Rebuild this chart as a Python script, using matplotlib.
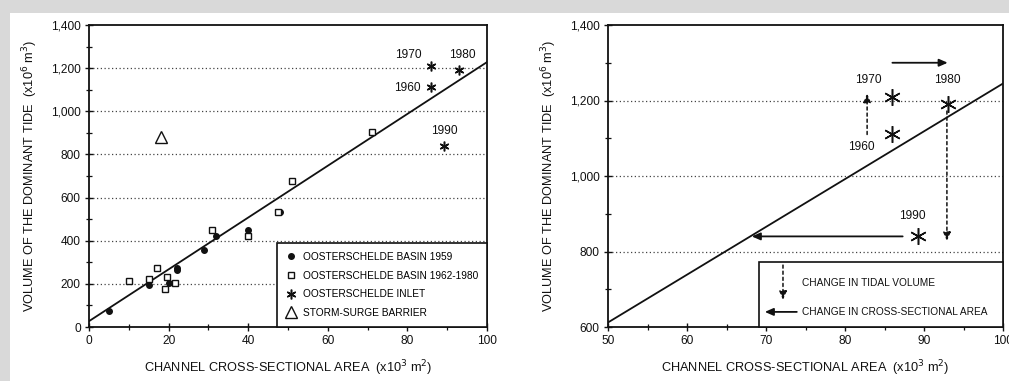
import matplotlib
matplotlib.use("Agg")
import matplotlib.pyplot as plt
from matplotlib.patches import Rectangle
from matplotlib.ticker import MultipleLocator, FuncFormatter

plt.rcParams['font.family'] = ['Liberation Sans', 'DejaVu Sans']

# ---- Data: Oosterschelde tidal volume vs. channel cross-section ----
basin_1959_x = [5, 15, 20, 22, 22, 29, 32, 40, 48]
basin_1959_y = [75, 195, 205, 275, 262, 355, 420, 450, 535]

basin_1962_x = [10, 15, 17, 19, 19.5, 21.5, 31, 40, 47.5, 51, 71]
basin_1962_y = [215, 222, 272, 175, 232, 203, 450, 420, 535, 675, 905]

inlet_years = ["1960", "1970", "1980", "1990"]
inlet_x = [86, 86, 93, 89.3]
inlet_y = [1112, 1210, 1192, 840]

barrier_x = [18]
barrier_y = [882]

# regression line end points for each panel
fit_left_x = [0, 100]
fit_left_y = [27, 1228]
fit_right_x = [50, 100]
fit_right_y = [612, 1245]

# label positions for the year annotations
left_label_x = [80.0, 80.2, 93.8, 89.3]
left_label_y = [1108, 1262, 1262, 910]
right_label_x = [82, 82.9, 93, 88.5]
right_label_y = [1077, 1254, 1254, 894]

# change arrows in the right panel: (x_start, y_start, x_end, y_end)
vol_up = (82.8, 1110, 82.8, 1218)
vol_down = (92.9, 1172, 92.9, 828)
area_right = (86.0, 1300, 93.0, 1300)
area_left = (87.3, 840, 68.2, 840)

GRID_Y_LEFT = [200, 400, 600, 800, 1000, 1200]
GRID_Y_RIGHT = [800, 1000, 1200]

FS_TICK = 8.6
FS_LABEL = 9.2
FS_YEAR = 8.6
FS_KEY = 7.3
TXT = "#111111"

fig = plt.figure(figsize=(10.09, 3.81), dpi=100, facecolor="#d9d9d9")
# white sheet on the grey page
sheet = Rectangle((10 / 1009, 0), 1 - 10 / 1009, (381 - 13) / 381,
                  transform=fig.transFigure, facecolor="white",
                  edgecolor="none", zorder=-10)
fig.add_artist(sheet)

ax1 = fig.add_axes([89 / 1009, 54 / 381, 398 / 1009, 302 / 381])
ax2 = fig.add_axes([608 / 1009, 54 / 381, 395 / 1009, 302 / 381])

comma = FuncFormatter(lambda v, p: f"{v:,.0f}")


def style_axes(ax):
    for s in ax.spines.values():
        s.set_linewidth(1.3)
        s.set_color("#111111")
    ax.tick_params(which="major", direction="inout", length=6, width=1.0,
                   labelsize=FS_TICK, colors="#111111", labelcolor=TXT, pad=3)
    ax.tick_params(which="minor", direction="inout", length=4, width=0.9,
                   colors="#111111")
    ax.yaxis.set_major_formatter(comma)


# ---------------- left panel ----------------
ax1.set_xlim(0, 100)
ax1.set_ylim(0, 1400)
ax1.xaxis.set_major_locator(MultipleLocator(20))
ax1.xaxis.set_minor_locator(MultipleLocator(10))
ax1.yaxis.set_major_locator(MultipleLocator(200))
ax1.yaxis.set_minor_locator(MultipleLocator(100))
style_axes(ax1)
for gy in GRID_Y_LEFT:
    ax1.axhline(gy, color="#444444", lw=0.9, ls=(0, (1, 2)), zorder=1)

ax1.plot(fit_left_x, fit_left_y, color="#111111", lw=1.3, zorder=3)
ax1.plot(basin_1959_x, basin_1959_y, ls="none", marker="o", ms=4,
         color="#111111", zorder=4, label="OOSTERSCHELDE BASIN 1959")
ax1.plot(basin_1962_x, basin_1962_y, ls="none", marker="s", ms=5,
         mfc="white", mec="#111111", mew=1.0, zorder=4,
         label="OOSTERSCHELDE BASIN 1962-1980")
ax1.plot(inlet_x, inlet_y, ls="none", marker=(6, 2, 0), ms=7,
         color="#111111", mew=1.1, zorder=4, label="OOSTERSCHELDE INLET")
ax1.plot(barrier_x, barrier_y, ls="none", marker="^", ms=9,
         mfc="white", mec="#111111", mew=1.0, zorder=4,
         label="STORM-SURGE BARRIER")
for yr, lx, ly in zip(inlet_years, left_label_x, left_label_y):
    ax1.text(lx, ly, yr, fontsize=FS_YEAR, color=TXT, ha="center",
             va="center", zorder=5)

leg = ax1.legend(loc="lower right", borderaxespad=0, fontsize=FS_KEY,
                 fancybox=False, framealpha=1, edgecolor="#111111",
                 handletextpad=0.6, handlelength=1.0, labelspacing=0.85,
                 borderpad=0.9)
leg.get_frame().set_linewidth(1.2)
leg.set_zorder(6)

ax1.set_xlabel("CHANNEL CROSS-SECTIONAL AREA  (x10$^3$ m$^2$)",
               fontsize=FS_LABEL, color=TXT, labelpad=8)
ax1.set_ylabel("VOLUME OF THE DOMINANT TIDE  (x10$^6$ m$^3$)",
               fontsize=FS_LABEL, color=TXT, labelpad=8)

# ---------------- right panel ----------------
ax2.set_xlim(50, 100)
ax2.set_ylim(600, 1400)
ax2.xaxis.set_major_locator(MultipleLocator(10))
ax2.xaxis.set_minor_locator(MultipleLocator(5))
ax2.yaxis.set_major_locator(MultipleLocator(200))
ax2.yaxis.set_minor_locator(MultipleLocator(100))
style_axes(ax2)
for gy in GRID_Y_RIGHT:
    ax2.axhline(gy, color="#444444", lw=0.9, ls=(0, (1, 2)), zorder=1)

ax2.plot(fit_right_x, fit_right_y, color="#111111", lw=1.3, zorder=3)
ax2.plot(inlet_x, inlet_y, ls="none", marker=(6, 2, 0), ms=12,
         color="#111111", mew=1.1, zorder=4)
for yr, lx, ly in zip(inlet_years, right_label_x, right_label_y):
    ax2.text(lx, ly, yr, fontsize=FS_YEAR, color=TXT, ha="center",
             va="center", zorder=5)


def arrow(ax, seg, dashed):
    x0, y0, x1, y1 = seg
    kw = dict(arrowstyle="-|>,head_length=0.5,head_width=0.22",
              color="#111111", lw=1.1 if dashed else 1.3,
              linestyle=(0, (2, 2)) if dashed else "-",
              shrinkA=0, shrinkB=0)
    ax.annotate("", xy=(x1, y1), xytext=(x0, y0), arrowprops=kw, zorder=5)


arrow(ax2, vol_up, True)
arrow(ax2, vol_down, True)
arrow(ax2, area_right, False)
arrow(ax2, area_left, False)

# key box for the arrow types
ax2.add_patch(Rectangle((0.382, 0.0), 0.618, 0.215, transform=ax2.transAxes,
                        facecolor="white", edgecolor="#111111", lw=1.2,
                        zorder=6, clip_on=False))
ax2.annotate("", xy=(0.443, 0.09), xytext=(0.443, 0.205),
             xycoords="axes fraction", textcoords="axes fraction",
             arrowprops=dict(arrowstyle="-|>,head_length=0.5,head_width=0.22",
                             color="#111111", lw=1.1, linestyle=(0, (2, 2)),
                             shrinkA=0, shrinkB=0), zorder=7)
ax2.annotate("", xy=(0.397, 0.05), xytext=(0.478, 0.05),
             xycoords="axes fraction", textcoords="axes fraction",
             arrowprops=dict(arrowstyle="-|>,head_length=0.5,head_width=0.22",
                             color="#111111", lw=1.3,
                             shrinkA=0, shrinkB=0), zorder=7)
ax2.text(0.491, 0.146, "CHANGE IN TIDAL VOLUME", transform=ax2.transAxes,
         fontsize=FS_KEY, color=TXT, va="center", zorder=7)
ax2.text(0.491, 0.05, "CHANGE IN CROSS-SECTIONAL AREA",
         transform=ax2.transAxes, fontsize=FS_KEY, color=TXT, va="center",
         zorder=7)

ax2.set_xlabel("CHANNEL CROSS-SECTIONAL AREA  (x10$^3$ m$^2$)",
               fontsize=FS_LABEL, color=TXT, labelpad=8)
ax2.set_ylabel("VOLUME OF THE DOMINANT TIDE  (x10$^6$ m$^3$)",
               fontsize=FS_LABEL, color=TXT, labelpad=8)

fig.savefig("out.png", dpi=100, facecolor=fig.get_facecolor())
